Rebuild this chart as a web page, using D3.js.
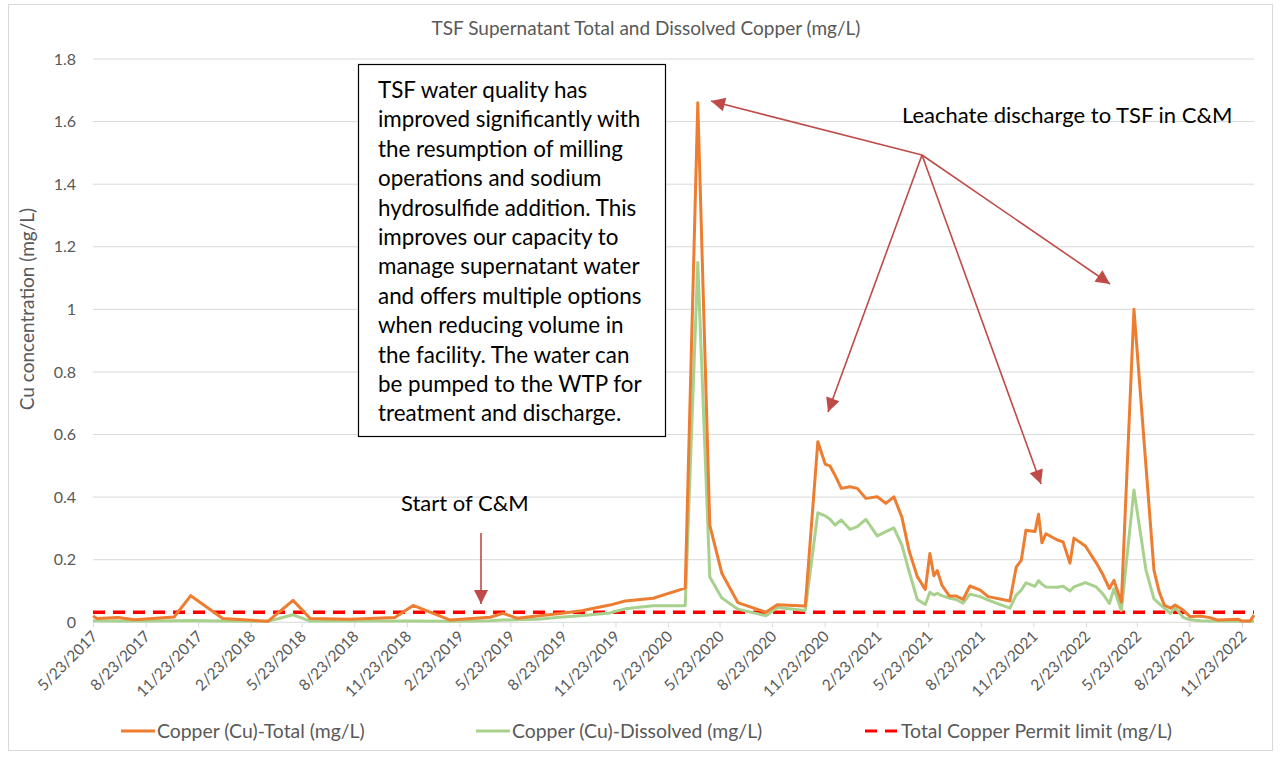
<!DOCTYPE html>
<html><head><meta charset="utf-8">
<script src="https://cdn.jsdelivr.net/npm/d3@7/dist/d3.min.js"></script>
<style>body{margin:0;background:#fff}svg{display:block}</style>
</head><body><svg id="c" width="1281" height="757"></svg>
<script>
const dates = ["2017-05-23","2017-05-30","2017-07-06","2017-08-04","2017-10-12","2017-11-10","2018-01-05","2018-03-25","2018-05-08","2018-06-07","2018-08-16","2018-11-02","2018-12-04","2019-02-07","2019-04-18","2019-05-10","2019-06-04","2019-07-09","2019-08-18","2019-09-27","2019-11-13","2019-12-10","2020-01-28","2020-03-24","2020-04-15","2020-05-06","2020-05-27","2020-06-24","2020-08-12","2020-09-01","2020-10-20","2020-11-11","2020-11-24","2020-12-02","2020-12-11","2020-12-22","2021-01-06","2021-01-19","2021-02-03","2021-02-23","2021-03-10","2021-03-24","2021-04-07","2021-04-20","2021-05-04","2021-05-18","2021-05-26","2021-06-02","2021-06-08","2021-06-16","2021-06-29","2021-07-11","2021-07-23","2021-08-04","2021-08-22","2021-09-05","2021-10-13","2021-10-24","2021-11-02","2021-11-10","2021-11-26","2021-12-02","2021-12-08","2021-12-15","2022-01-04","2022-01-14","2022-01-26","2022-02-02","2022-02-22","2022-03-13","2022-03-25","2022-04-05","2022-04-13","2022-04-26","2022-05-18","2022-06-08","2022-06-22","2022-07-01","2022-07-10","2022-07-21","2022-07-29","2022-08-12","2022-08-24","2022-09-11","2022-09-28","2022-10-12","2022-11-16","2022-11-23","2022-12-07","2022-12-14"];
const copperTotal = [0.02,0.012,0.015,0.008,0.017,0.085,0.012,0.003,0.07,0.012,0.01,0.015,0.054,0.007,0.016,0.029,0.013,0.02,0.028,0.038,0.055,0.068,0.077,0.109,1.66,0.31,0.157,0.063,0.032,0.056,0.052,0.577,0.505,0.5,0.47,0.428,0.433,0.428,0.396,0.401,0.38,0.401,0.336,0.226,0.146,0.105,0.22,0.149,0.165,0.119,0.084,0.084,0.073,0.116,0.103,0.082,0.068,0.176,0.199,0.294,0.29,0.345,0.254,0.283,0.263,0.257,0.189,0.269,0.244,0.19,0.151,0.108,0.134,0.064,1.0,0.5,0.167,0.098,0.055,0.045,0.055,0.039,0.018,0.02,0.015,0.007,0.01,0.004,0.004,0.023];
const copperDissolved = [0.005,0.005,0.004,0.004,0.005,0.006,0.004,0.003,0.024,0.004,0.004,0.004,0.004,0.003,0.005,0.007,0.008,0.01,0.016,0.022,0.03,0.043,0.053,0.053,1.15,0.145,0.078,0.042,0.021,0.047,0.038,0.35,0.34,0.33,0.311,0.327,0.297,0.306,0.329,0.276,0.29,0.302,0.247,0.16,0.073,0.057,0.096,0.087,0.093,0.085,0.077,0.073,0.061,0.09,0.082,0.071,0.045,0.087,0.103,0.126,0.115,0.133,0.122,0.113,0.112,0.115,0.1,0.113,0.127,0.113,0.09,0.06,0.107,0.038,0.423,0.167,0.075,0.06,0.045,0.029,0.047,0.016,0.008,0.005,0.004,0.004,0.003,0.003,0.003,0.004];
const permitLimit = 0.032;
const yTicks = [0,0.2,0.4,0.6,0.8,1,1.2,1.4,1.6,1.8];
const xTickDates = ["2017-05-23","2017-08-23","2017-11-23","2018-02-23","2018-05-23","2018-08-23","2018-11-23","2019-02-23","2019-05-23","2019-08-23","2019-11-23","2020-02-23","2020-05-23","2020-08-23","2020-11-23","2021-02-23","2021-05-23","2021-08-23","2021-11-23","2022-02-23","2022-05-23","2022-08-23","2022-11-23"];
const seriesNames = ["Copper (Cu)-Total (mg/L)","Copper (Cu)-Dissolved (mg/L)","Total Copper Permit limit (mg/L)"];
const chartTitle = "TSF Supernatant Total and Dissolved Copper (mg/L)";
const yTitle = "Cu concentration (mg/L)";
const noteLines = ["TSF water quality has","improved significantly with","the resumption of milling","operations and sodium","hydrosulfide addition. This","improves our capacity to","manage supernatant water","and offers multiple options","when reducing volume in","the facility. The water can","be pumped to the WTP for","treatment and discharge."];
const leachateLabel = "Leachate discharge to TSF in C&M";
const startLabel = "Start of C&M";

const parse = d3.timeParse("%Y-%m-%d");
const fmt = d3.timeFormat("%-m/%-d/%Y");
const svg = d3.select("#c");
const font = "Lato, 'Open Sans', sans-serif";
const gray = "#595959";

svg.append("rect").attr("x",8.5).attr("y",4.5).attr("width",1264).attr("height",746)
  .attr("fill","#fff").attr("stroke","#d9d9d9");

const x = d3.scaleTime().domain([parse("2017-05-23"), parse("2022-12-14")]).range([93,1254]);
const y = d3.scaleLinear().domain([0,1.8]).range([622.3,59]);

// grid
svg.append("g").selectAll("line").data(yTicks.slice(1)).join("line")
  .attr("x1",93).attr("x2",1254).attr("y1",d=>y(d)).attr("y2",d=>y(d))
  .attr("stroke","#d9d9d9").attr("stroke-width",1);

// y axis
const ya = svg.append("g").attr("transform","translate(93,0)")
  .call(d3.axisLeft(y).tickValues(yTicks).tickSize(0).tickPadding(17).tickFormat(d=>String(d)));
ya.select(".domain").remove();
ya.selectAll("text").attr("fill",gray).style("font-family",font).style("font-size","16px");

// x axis
const xa = svg.append("g").attr("transform","translate(0,622.3)")
  .call(d3.axisBottom(x).tickValues(xTickDates.map(parse)).tickSize(5).tickFormat(fmt));
xa.select(".domain").attr("stroke","#d9d9d9").attr("d","M93,0H1254");
xa.selectAll(".tick line").attr("stroke","#d9d9d9");
xa.selectAll("text").attr("fill",gray).style("font-family",font).style("font-size","15.5px")
  .attr("text-anchor","end").attr("dy",null).attr("y",0)
  .attr("transform","translate(5,15) rotate(-45)");

const data = dates.map((d,i)=>({d:parse(d),t:copperTotal[i],s:copperDissolved[i]}));

svg.append("line").attr("x1",93).attr("x2",1254).attr("y1",y(permitLimit)).attr("y2",y(permitLimit))
  .attr("stroke","#ff0000").attr("stroke-width",3.5).attr("stroke-dasharray","12,8");

svg.append("path").datum(data).attr("fill","none").attr("stroke","#a9d18e").attr("stroke-width",3)
  .attr("stroke-linejoin","round").attr("d",d3.line().x(d=>x(d.d)).y(d=>y(d.s)));
svg.append("path").datum(data).attr("fill","none").attr("stroke","#ed7d31").attr("stroke-width",3)
  .attr("stroke-linejoin","round").attr("d",d3.line().x(d=>x(d.d)).y(d=>y(d.t)));

// title
svg.append("text").attr("x",646).attr("y",35).attr("text-anchor","middle").attr("fill",gray)
  .style("font-family",font).style("font-size","19px").text(chartTitle);
svg.append("text").attr("transform","translate(34,309) rotate(-90)").attr("text-anchor","middle")
  .attr("fill",gray).style("font-family",font).style("font-size","19px").text(yTitle);

// legend
const leg = [{x:121,c:"#ed7d31",dash:null},{x:476,c:"#a9d18e",dash:null},{x:865,c:"#ff0000",dash:"12,8"}];
leg.forEach((l,i)=>{
  svg.append("line").attr("x1",l.x).attr("x2",l.x+34).attr("y1",731).attr("y2",731)
    .attr("stroke",l.c).attr("stroke-width",3).attr("stroke-dasharray",l.dash);
  svg.append("text").attr("x",l.x+36).attr("y",738).attr("fill",gray)
    .style("font-family",font).style("font-size","19.4px").text(seriesNames[i]);
});

// note box
svg.append("rect").attr("x",358.5).attr("y",64.5).attr("width",307).attr("height",372)
  .attr("fill","#fff").attr("stroke","#000").attr("stroke-width",1.2);
svg.append("g").selectAll("text").data(noteLines).join("text")
  .attr("x",378).attr("y",(d,i)=>98+i*29.4).attr("fill","#000")
  .style("font-family",font).style("font-size","22.4px").text(d=>d);

// arrows
const ac = "#be4b48";
const defs = svg.append("defs");
defs.append("marker").attr("id","ah").attr("viewBox","0 0 10 10").attr("refX",10).attr("refY",5)
  .attr("markerWidth",16).attr("markerHeight",14).attr("markerUnits","userSpaceOnUse")
  .attr("orient","auto").append("path").attr("d","M0,0L10,5L0,10Z").attr("fill",ac);
const src = [922,155];
const tips = [[711,101],[828,412],[1110,284],[1041,484]];
tips.forEach(t=>{
  svg.append("line").attr("x1",src[0]).attr("y1",src[1]).attr("x2",t[0]).attr("y2",t[1])
    .attr("stroke",ac).attr("stroke-width",1.6).attr("marker-end","url(#ah)");
});
svg.append("line").attr("x1",481).attr("y1",533).attr("x2",481).attr("y2",604)
  .attr("stroke",ac).attr("stroke-width",1.6).attr("marker-end","url(#ah)");

svg.append("text").attr("x",902).attr("y",123).attr("fill","#000").style("font-family",font)
  .style("font-size","22px").text(leachateLabel);
svg.append("text").attr("x",401).attr("y",511).attr("fill","#000").style("font-family",font)
  .style("font-size","22px").text(startLabel);
</script></body></html>
